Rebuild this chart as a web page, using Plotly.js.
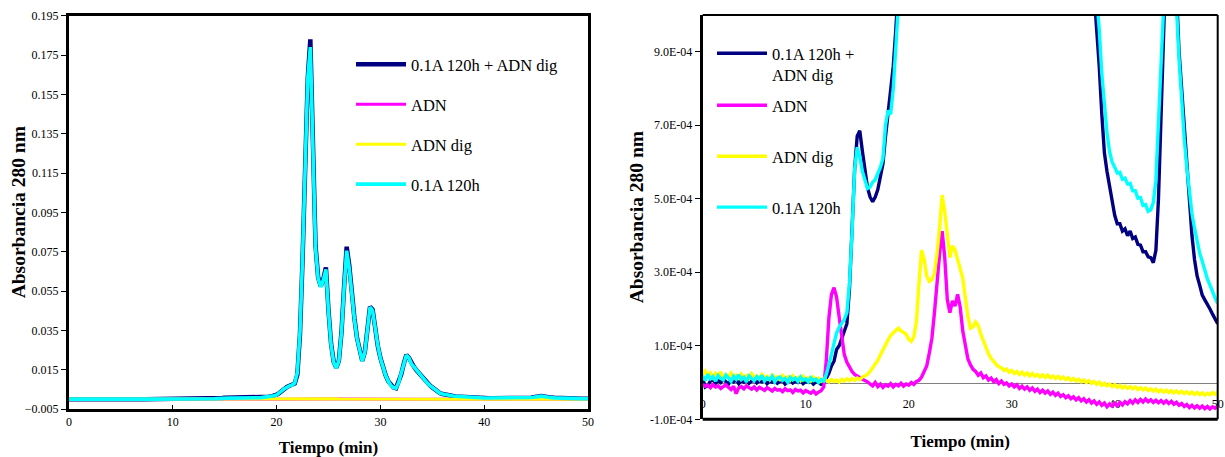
<!DOCTYPE html>
<html>
<head>
<meta charset="utf-8">
<script src="https://cdn.plot.ly/plotly-3.0.1.min.js"></script>
<style>
  html, body { margin: 0; padding: 0; background: #fff; }
  #chart { width: 1225px; height: 457px; }
</style>
</head>
<body>
<div id="chart"></div>
<script>
// Elution time (min), one reading every 0.25 min
const timeMin = [
  0, 0.25, 0.5, 0.75, 1, 1.25, 1.5, 1.75, 2, 2.25, 2.5, 2.75, 3, 3.25, 3.5, 3.75, 4, 4.25, 4.5, 4.75,
  5, 5.25, 5.5, 5.75, 6, 6.25, 6.5, 6.75, 7, 7.25, 7.5, 7.75, 8, 8.25, 8.5, 8.75, 9, 9.25, 9.5, 9.75,
  10, 10.25, 10.5, 10.75, 11, 11.25, 11.5, 11.75, 12, 12.25, 12.5, 12.75, 13, 13.25, 13.5, 13.75, 14, 14.25, 14.5, 14.75,
  15, 15.25, 15.5, 15.75, 16, 16.25, 16.5, 16.75, 17, 17.25, 17.5, 17.75, 18, 18.25, 18.5, 18.75, 19, 19.25, 19.5, 19.75,
  20, 20.25, 20.5, 20.75, 21, 21.25, 21.5, 21.75, 22, 22.25, 22.5, 22.75, 23, 23.25, 23.5, 23.75, 24, 24.25, 24.5, 24.75,
  25, 25.25, 25.5, 25.75, 26, 26.25, 26.5, 26.75, 27, 27.25, 27.5, 27.75, 28, 28.25, 28.5, 28.75, 29, 29.25, 29.5, 29.75,
  30, 30.25, 30.5, 30.75, 31, 31.25, 31.5, 31.75, 32, 32.25, 32.5, 32.75, 33, 33.25, 33.5, 33.75, 34, 34.25, 34.5, 34.75,
  35, 35.25, 35.5, 35.75, 36, 36.25, 36.5, 36.75, 37, 37.25, 37.5, 37.75, 38, 38.25, 38.5, 38.75, 39, 39.25, 39.5, 39.75,
  40, 40.25, 40.5, 40.75, 41, 41.25, 41.5, 41.75, 42, 42.25, 42.5, 42.75, 43, 43.25, 43.5, 43.75, 44, 44.25, 44.5, 44.75,
  45, 45.25, 45.5, 45.75, 46, 46.25, 46.5, 46.75, 47, 47.25, 47.5, 47.75, 48, 48.25, 48.5, 48.75, 49, 49.25, 49.5, 49.75,
  50
];

// Absorbance at 280 nm, in mAU (1 mAU = 0.001)
const mixMAU = [ // 0.1A 120h + ADN dig
  0.010, -0.012, -0.008, 0.004, 0.008, -0.002, 0.006, 0.000, 0.009, 0.003, -0.004, 0.007, 0.002, 0.008, -0.003, 0.005, 0.001, 0.007, -0.002, 0.004,
  0.006, -0.001, 0.005, 0.002, 0.007, -0.003, 0.004, 0.001, 0.006, -0.002, 0.003, 0.005, -0.004, 0.002, 0.006, -0.001, 0.004, 0.000, 0.005, -0.003,
  0.003, 0.001, 0.004, -0.004, 0.002, 0.000, -0.005, -0.002, 0.012, 0.025, 0.045, 0.058, 0.090, 0.100, 0.120, 0.140, 0.160, 0.255, 0.400, 0.580,
  0.670, 0.685, 0.630, 0.575, 0.530, 0.505, 0.492, 0.505, 0.525, 0.560, 0.595, 0.670, 0.735, 0.790, 0.860, 0.960, 1.06, 1.20, 1.45, 1.80,
  2.3, 3.1, 4.3, 5.4, 6.2, 6.8, 7.2, 8.0, 12.5, 33, 71, 111, 163, 183, 133, 78, 62, 57.5, 61, 67,
  45, 28, 19, 16, 19.5, 34, 57, 77.5, 68, 53, 41, 31, 24.5, 19.5, 24, 37, 47, 45.5, 35.5, 27,
  21, 16, 12.2, 9.2, 7.2, 6.0, 5.6, 8.5, 12.5, 18, 22.5, 21, 18, 16.3, 14.6, 13.0, 11.6, 10.0, 8.4, 7.1,
  6.0, 4.8, 3.8, 3.0, 2.6, 2.2, 1.95, 1.75, 1.58, 1.42, 1.3, 1.16, 1.06, 0.97, 0.86, 0.73, 0.625, 0.575, 0.535, 0.485,
  0.455, 0.432, 0.432, 0.412, 0.418, 0.400, 0.412, 0.392, 0.396, 0.376, 0.374, 0.356, 0.356, 0.342, 0.340, 0.326, 0.36, 0.5, 0.78, 0.98,
  1.25, 1.5, 1.62, 1.42, 1.06, 0.9, 0.79, 0.69, 0.6, 0.5, 0.4, 0.335, 0.29, 0.265, 0.238, 0.225, 0.21, 0.2, 0.186, 0.172,
  0.16
];

const adnMAU = [ // ADN
  -0.005, -0.010, -0.007, -0.014, -0.006, -0.012, -0.009, -0.016, -0.011, -0.006, -0.013, -0.019, -0.010, -0.030, -0.014, -0.011, -0.017, -0.009, -0.014, -0.018,
  -0.012, -0.020, -0.013, -0.016, -0.021, -0.014, -0.018, -0.023, -0.016, -0.021, -0.019, -0.025, -0.017, -0.022, -0.020, -0.027, -0.019, -0.023, -0.021, -0.028,
  -0.022, -0.026, -0.029, -0.023, -0.031, -0.026, -0.022, -0.012, 0.060, 0.175, 0.240, 0.258, 0.232, 0.178, 0.118, 0.076, 0.055, 0.040, 0.030, 0.022,
  0.019, 0.014, 0.009, 0.006, 0.002, -0.004, -0.009, 0.000, -0.011, -0.004, -0.013, -0.006, -0.010, -0.003, -0.012, -0.005, -0.009, -0.002, -0.010, -0.004,
  -0.007, 0.000, -0.005, 0.003, 0.006, 0.015, 0.028, 0.045, 0.080, 0.120, 0.190, 0.285, 0.350, 0.412, 0.340, 0.225, 0.190, 0.222, 0.208, 0.240,
  0.205, 0.140, 0.095, 0.064, 0.048, 0.036, 0.030, 0.020, 0.026, 0.013, 0.018, 0.007, 0.012, 0.002, 0.008, -0.003, 0.004, -0.005, -0.001, -0.009,
  -0.004, -0.012, -0.006, -0.016, -0.010, -0.018, -0.012, -0.021, -0.015, -0.024, -0.018, -0.027, -0.021, -0.029, -0.023, -0.032, -0.026, -0.035, -0.029, -0.038,
  -0.033, -0.041, -0.036, -0.044, -0.039, -0.047, -0.041, -0.050, -0.044, -0.053, -0.047, -0.056, -0.050, -0.059, -0.053, -0.062, -0.056, -0.066, -0.058, -0.064,
  -0.056, -0.063, -0.054, -0.061, -0.052, -0.058, -0.049, -0.056, -0.047, -0.054, -0.046, -0.053, -0.045, -0.052, -0.047, -0.054, -0.048, -0.055, -0.049, -0.056,
  -0.050, -0.057, -0.051, -0.059, -0.054, -0.062, -0.057, -0.065, -0.060, -0.068, -0.062, -0.069, -0.063, -0.070, -0.064, -0.071, -0.065, -0.072, -0.066, -0.070,
  -0.064
];

const adnDigMAU = [ // ADN dig
  0.022, 0.031, 0.018, 0.026, 0.014, 0.025, 0.017, 0.029, 0.012, 0.021, 0.016, 0.026, 0.013, 0.020, 0.009, 0.023, 0.015, 0.019, 0.011, 0.024,
  0.014, 0.018, 0.010, 0.022, 0.013, 0.017, 0.008, 0.020, 0.012, 0.016, 0.009, 0.019, 0.011, 0.015, 0.007, 0.018, 0.010, 0.014, 0.006, 0.017,
  0.009, 0.013, 0.005, 0.015, 0.008, 0.012, 0.004, 0.010, 0.006, 0.002, 0.008, 0.003, 0.007, 0.001, 0.009, 0.004, 0.010, 0.005, 0.011, 0.006,
  0.012, 0.008, 0.015, 0.018, 0.022, 0.030, 0.040, 0.050, 0.060, 0.075, 0.090, 0.102, 0.116, 0.128, 0.136, 0.142, 0.148, 0.140, 0.137, 0.131,
  0.118, 0.112, 0.125, 0.165, 0.270, 0.360, 0.335, 0.290, 0.275, 0.280, 0.298, 0.350, 0.420, 0.510, 0.465, 0.400, 0.340, 0.372, 0.360, 0.335,
  0.312, 0.284, 0.230, 0.180, 0.148, 0.152, 0.165, 0.155, 0.132, 0.112, 0.095, 0.078, 0.066, 0.056, 0.049, 0.043, 0.040, 0.033, 0.037, 0.028,
  0.033, 0.025, 0.030, 0.022, 0.028, 0.020, 0.026, 0.018, 0.025, 0.017, 0.022, 0.015, 0.021, 0.014, 0.020, 0.013, 0.018, 0.011, 0.017, 0.010,
  0.015, 0.008, 0.013, 0.006, 0.011, 0.004, 0.009, 0.002, 0.007, 0.000, 0.005, -0.002, 0.003, -0.005, 0.001, -0.007, -0.002, -0.009, -0.004, -0.011,
  -0.006, -0.013, -0.008, -0.015, -0.010, -0.016, -0.011, -0.017, -0.012, -0.019, -0.014, -0.020, -0.015, -0.022, -0.017, -0.023, -0.018, -0.025, -0.020, -0.026,
  -0.021, -0.027, -0.022, -0.028, -0.023, -0.029, -0.024, -0.030, -0.025, -0.031, -0.026, -0.032, -0.027, -0.033, -0.028, -0.034, -0.029, -0.033, -0.027, -0.032,
  -0.026
];

const proteinMAU = [ // 0.1A 120h
  0.018, 0.006, 0.022, 0.010, 0.016, 0.004, 0.019, 0.011, 0.007, 0.020, 0.013, 0.003, 0.017, 0.009, 0.021, 0.008, 0.014, 0.002, 0.018, 0.010,
  0.005, 0.016, 0.009, 0.019, 0.004, 0.013, 0.008, 0.017, 0.002, 0.012, 0.015, 0.006, 0.011, 0.001, 0.014, 0.007, 0.012, 0.003, 0.015, 0.006,
  0.010, 0.002, 0.013, 0.005, 0.009, 0.000, 0.008, 0.004, 0.022, 0.048, 0.078, 0.110, 0.135, 0.150, 0.162, 0.172, 0.190, 0.270, 0.410, 0.580,
  0.640, 0.615, 0.575, 0.548, 0.528, 0.532, 0.545, 0.552, 0.570, 0.585, 0.610, 0.700, 0.740, 0.730, 0.800, 0.900, 1.00, 1.14, 1.38, 1.72,
  2.2, 3.0, 4.2, 5.3, 6.2, 6.8, 7.2, 8.2, 13.5, 34, 72, 113, 163, 179, 131, 77, 61.5, 57, 60.5, 66,
  44.5, 27.5, 18.8, 15.8, 19.5, 34, 56.5, 75.5, 66.5, 52.5, 40.5, 30.8, 24.2, 19.3, 23.8, 37, 46.8, 45, 35.3, 27.3,
  20.8, 15.9, 12.1, 9.2, 7.1, 5.9, 5.6, 8.4, 12.4, 17.8, 22.3, 20.9, 17.9, 16.2, 14.5, 12.9, 11.5, 9.9, 8.3, 7.0,
  5.9, 4.7, 3.75, 3.0, 2.6, 2.25, 2.0, 1.8, 1.62, 1.48, 1.36, 1.24, 1.14, 1.05, 0.96, 0.84, 0.75, 0.68, 0.628, 0.6,
  0.586, 0.570, 0.572, 0.553, 0.556, 0.540, 0.542, 0.522, 0.522, 0.502, 0.503, 0.482, 0.484, 0.466, 0.470, 0.49, 0.55, 0.68, 0.84, 0.96,
  1.18, 1.42, 1.55, 1.36, 1.02, 0.88, 0.76, 0.665, 0.585, 0.515, 0.46, 0.42, 0.385, 0.352, 0.33, 0.305, 0.282, 0.265, 0.246, 0.23,
  0.215
];

// Legend names (the right-hand legend wraps the long one)
const seriesNames = ['0.1A 120h + ADN dig', 'ADN', 'ADN dig', '0.1A 120h'];
const seriesNamesWrapped = ['0.1A 120h +<br>ADN dig', 'ADN', 'ADN dig', '0.1A 120h'];
const seriesColors = ['#000080', '#FF00FF', '#FFFF00', '#00FFFF'];
const seriesMAU = [mixMAU, adnMAU, adnDigMAU, proteinMAU];

// Tick labels
const leftTickVals = [-0.005, 0.015, 0.035, 0.055, 0.075, 0.095, 0.115, 0.135, 0.155, 0.175, 0.195];
const rightTickVals = [-0.0001, 0.0001, 0.0003, 0.0005, 0.0007, 0.0009];
const rightTickText = ['-1.0E-04', '1.0E-04', '3.0E-04', '5.0E-04', '7.0E-04', '9.0E-04'];
const timeTickVals = [0, 10, 20, 30, 40, 50];

const absorbance = seriesMAU.map(arr => arr.map(v => v / 1000));

const leftWidths = [4.5, 3, 3, 3.6];
const rightWidths = [3.4, 3.4, 3.4, 3.4];
// the wrapped first entry sits in its own legend box so the rows keep an even pitch
const rightLegendOf = ['legend2', 'legend3', 'legend3', 'legend3'];

const traces = [];
seriesNames.forEach((name, i) => {
  traces.push({
    type: 'scatter', mode: 'lines', x: timeMin, y: absorbance[i],
    xaxis: 'x', yaxis: 'y', name: name, legend: 'legend', legendgroup: 'L' + i,
    line: { color: seriesColors[i], width: leftWidths[i] }, hoverinfo: 'skip'
  });
});
seriesNamesWrapped.forEach((name, i) => {
  traces.push({
    type: 'scatter', mode: 'lines', x: timeMin, y: absorbance[i],
    xaxis: 'x2', yaxis: 'y2', name: name, legend: rightLegendOf[i], legendgroup: 'R' + i,
    line: { color: seriesColors[i], width: rightWidths[i] }, hoverinfo: 'skip'
  });
});

const W = 1225, H = 457;
const xDom1 = [69 / W, 588 / W];
const yDom1 = [(H - 409) / H, (H - 15.7) / H];
const xDom2 = [702.7 / W, 1217.7 / W];
const yDom2 = [(H - 419.3) / H, (H - 15) / H];
const yRange1 = [-0.005, 0.195];
const yRange2 = [-0.0001, 0.001];
// paper height fraction where absorbance = 0 on the right panel
const zeroPos = yDom2[0] + (0 - yRange2[0]) / (yRange2[1] - yRange2[0]) * (yDom2[1] - yDom2[0]);

const serif = '"Liberation Serif", "Times New Roman", serif';
const titleFontY = { family: serif, size: 19.5, weight: 'bold', color: '#000' };
const titleFontX = { family: serif, size: 17, weight: 'bold', color: '#000' };
const tickFont = { family: serif, size: 12, color: '#000' };
const legendFont = { family: serif, size: 16.5, color: '#000' };

const layout = {
  width: W, height: H,
  margin: { l: 0, r: 0, t: 0, b: 0 },
  paper_bgcolor: '#fff', plot_bgcolor: '#fff',
  font: { family: serif, size: 12, color: '#000' },
  showlegend: true,
  xaxis: {
    domain: xDom1, range: [0, 50], tickmode: 'array', tickvals: timeTickVals,
    ticks: 'inside', ticklen: 4, tickwidth: 1, tickcolor: '#000',
    showline: true, linewidth: 3, linecolor: '#000', mirror: true,
    showgrid: false, zeroline: false, tickfont: tickFont,
    title: { text: 'Tiempo (min)', font: titleFontX, standoff: 14 }
  },
  yaxis: {
    domain: yDom1, range: yRange1, tickmode: 'array', tickvals: leftTickVals, tickformat: '.3f',
    ticks: 'outside', ticklen: 5, tickwidth: 1, tickcolor: '#000',
    showline: true, linewidth: 3, linecolor: '#000', mirror: true,
    showgrid: false, zeroline: false, tickfont: tickFont
  },
  xaxis2: {
    domain: xDom2, range: [0, 50], anchor: 'free', position: zeroPos,
    tickmode: 'array', tickvals: timeTickVals, ticks: '', ticklabelstandoff: 10,
    showline: true, linewidth: 1, linecolor: '#808080', layer: 'below traces',
    showgrid: false, zeroline: false, tickfont: tickFont,
    title: { text: 'Tiempo (min)', font: titleFontX, standoff: 25 }
  },
  yaxis2: {
    domain: yDom2, range: yRange2, anchor: 'x2',
    tickmode: 'array', tickvals: rightTickVals, ticktext: rightTickText,
    ticks: 'outside', ticklen: 5, tickwidth: 1, tickcolor: '#000',
    showline: true, linewidth: 3, linecolor: '#000',
    showgrid: false, zeroline: false, tickfont: tickFont,
    title: { text: 'Absorbancia 280 nm', font: titleFontY, standoff: 2 }
  },
  // left-panel y title, set as text beside the tick labels
  annotations: [{
    text: 'Absorbancia 280 nm', textangle: -90, font: titleFontY, showarrow: false,
    xref: 'paper', yref: 'paper', x: 18 / W, y: (yDom1[0] + yDom1[1]) / 2,
    xanchor: 'center', yanchor: 'middle'
  }],
  legend: {
    x: 351 / W, y: 1 - 47 / H, xanchor: 'left', yanchor: 'top', itemwidth: 50,
    bgcolor: 'rgba(0,0,0,0)', borderwidth: 0, font: legendFont,
    traceorder: 'grouped', tracegroupgap: 15.5
  },
  legend2: {
    x: 712 / W, y: 1 - 36 / H, xanchor: 'left', yanchor: 'top', itemwidth: 50,
    bgcolor: 'rgba(0,0,0,0)', borderwidth: 0, valign: 'top', font: legendFont
  },
  legend3: {
    x: 712 / W, y: 1 - 88 / H, xanchor: 'left', yanchor: 'top', itemwidth: 50,
    bgcolor: 'rgba(0,0,0,0)', borderwidth: 0, font: legendFont,
    traceorder: 'grouped', tracegroupgap: 26.5
  },
  shapes: [
    { type: 'line', xref: 'x2 domain', yref: 'y2 domain', x0: 0, x1: 1, y0: 1, y1: 1, line: { color: '#000', width: 2 } },
    { type: 'line', xref: 'x2 domain', yref: 'y2 domain', x0: 1, x1: 1, y0: 0, y1: 1, line: { color: '#000', width: 2 } },
    { type: 'line', xref: 'x2 domain', yref: 'y2 domain', x0: 0, x1: 1, y0: 0, y1: 0, line: { color: '#000', width: 3 } }
  ]
};

Plotly.newPlot('chart', traces, layout, { staticPlot: true, displayModeBar: false });
</script>
</body>
</html>
